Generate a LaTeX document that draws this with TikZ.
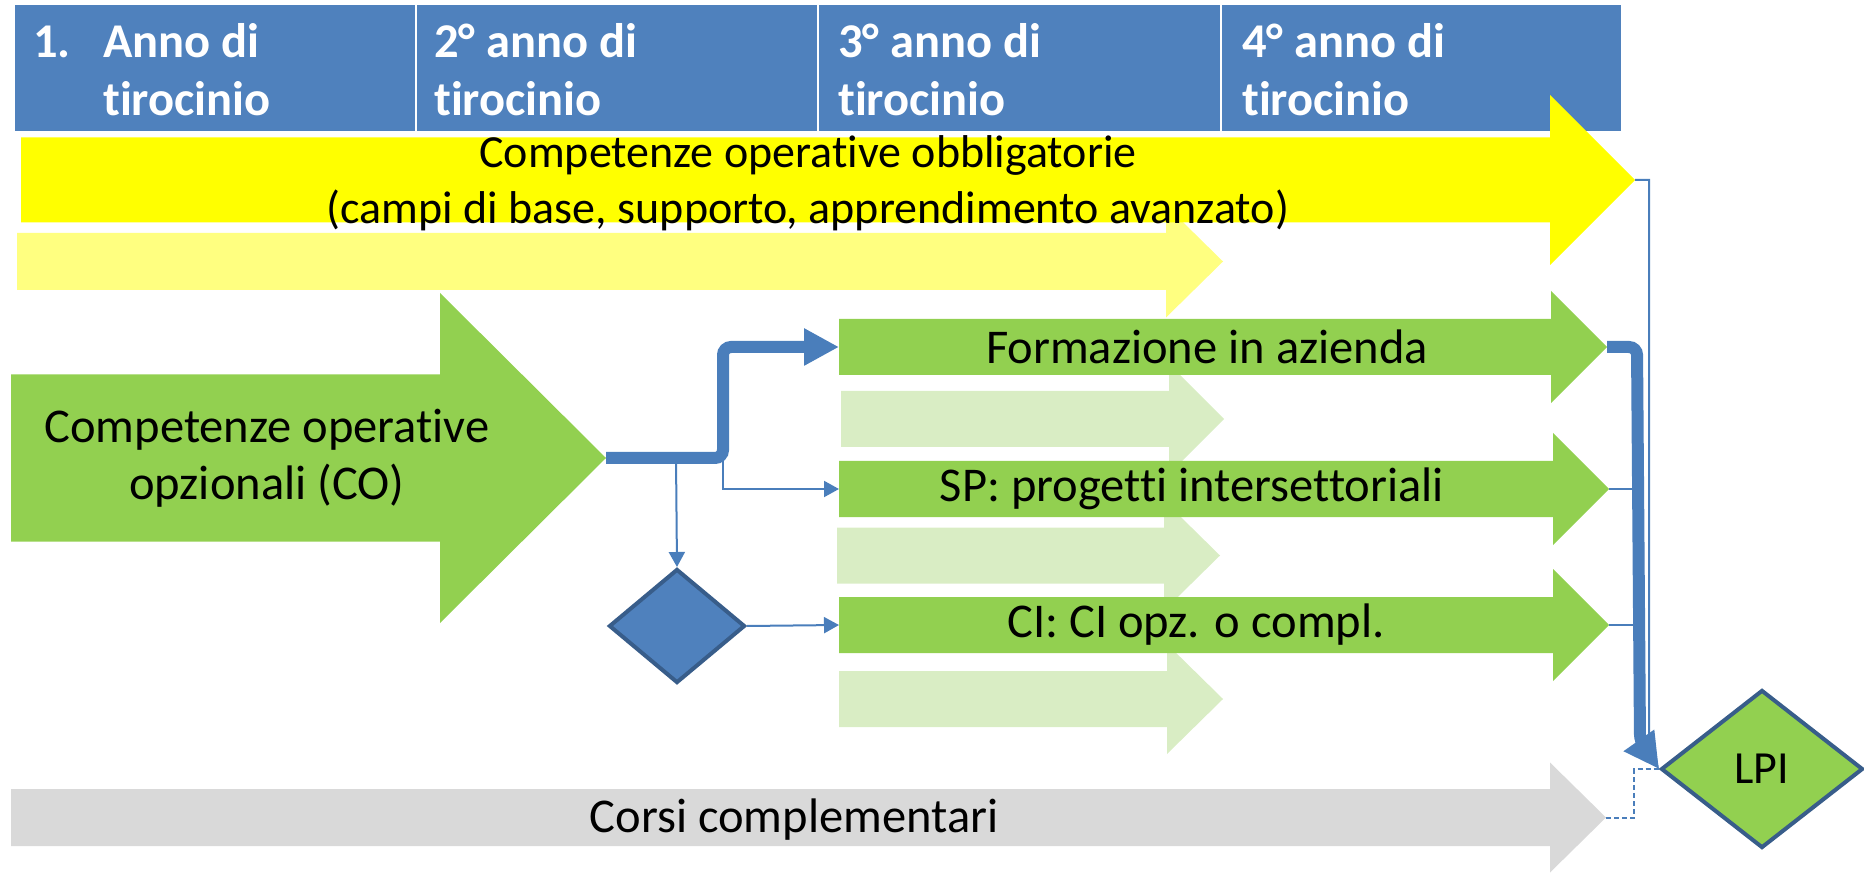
\documentclass[tikz,border=0pt]{standalone}
\usepackage{fontspec}
\setmainfont{Carlito}[Ligatures=CommonOff]
\usetikzlibrary{shapes.geometric,arrows.meta}
\definecolor{hdblue}{RGB}{79,129,189}
\definecolor{lnblue}{RGB}{74,126,187}
\definecolor{dkblue}{RGB}{56,93,138}
\definecolor{obyellow}{RGB}{255,255,0}
\definecolor{cogreen}{RGB}{146,208,80}
\definecolor{palegreen}{RGB}{217,237,196}
\definecolor{paleyellow}{RGB}{255,255,128}
\definecolor{cgray}{RGB}{217,217,217}
% name, fill, x tail, x head, x tip, y centre, shaft half, head half
\newcommand\blockarrow[8]{%
  \fill[#2] (#3,#6-#7) -- (#4,#6-#7) -- (#4,#6-#8) -- (#5,#6)
    -- (#4,#6+#8) -- (#4,#6+#7) -- (#3,#6+#7) -- cycle;
  \coordinate (#1-tail) at (#3,#6);
  \coordinate (#1-tip) at (#5,#6);}
\begin{document}
\begin{tikzpicture}[x=1pt, y=-1pt,
    hdcell/.style={fill=hdblue, draw=white, line width=2pt, anchor=north west, inner sep=0},
    hdtext/.style={text=white, font=\fontsize{48.5}{58}\selectfont\bfseries, anchor=base west, align=left, inner sep=0},
    lbl/.style={font=\fontsize{48.5}{57}\selectfont, align=center, inner sep=0},
    thinln/.style={lnblue, line width=2pt},
    thickln/.style={lnblue, line width=12pt, rounded corners=8pt}]
  \useasboundingbox (0,0) rectangle (1864,874);
  \node[hdcell, minimum width=402, minimum height=128] (H1) at (13,3) {};
  \node[hdcell, minimum width=402, minimum height=128] (H2) at (415,3) {};
  \node[hdcell, minimum width=403, minimum height=128] (H3) at (817,3) {};
  \node[hdcell, minimum width=401, minimum height=128] (H4) at (1220,3) {};
  \node[hdtext] (N1) at (33,58) {1.};
  \node[hdtext] (Y1) at (103,116) {Anno di\\tirocinio};
  \node[hdtext] (Y2) at (434,116) {2° anno di\\tirocinio};
  \node[hdtext] (Y3) at (838,116) {3° anno di\\tirocinio};
  \node[hdtext] (Y4) at (1242,116) {4° anno di\\tirocinio};
  \blockarrow{PY}{paleyellow}{17}{1166}{1223}{261.5}{28.5}{56}
  \blockarrow{OB}{obyellow}{21}{1550}{1635}{180}{42.5}{85}
  \blockarrow{P1}{palegreen}{841}{1169}{1224}{419}{28}{55}
  \blockarrow{P2}{palegreen}{837}{1164}{1220}{555.5}{28}{55}
  \blockarrow{P3}{palegreen}{839}{1167}{1223}{699}{28}{55}
  \blockarrow{FA}{cogreen}{839}{1551}{1607}{347}{28}{56}
  \blockarrow{SP}{cogreen}{839}{1553}{1609}{489}{28}{56}
  \blockarrow{CI}{cogreen}{839}{1553}{1609}{625}{28}{56}
  \blockarrow{CO}{cogreen}{11}{440}{606}{458}{83.5}{165}
  \blockarrow{CC}{cgray}{11}{1550}{1606}{817.5}{28.5}{55}
  \node[diamond, fill=hdblue, draw=dkblue, line width=4pt, minimum width=136, minimum height=114, inner sep=0] (D) at (677,626) {};
  \node[diamond, fill=cogreen, draw=dkblue, line width=4pt, minimum width=202, minimum height=158, inner sep=0, font=\fontsize{46}{56}\selectfont] (LPI) at (1762,769) {LPI};
  \coordinate (S1) at (676,458);
  \coordinate (S2) at (723,458);
  \coordinate (B1) at (1637,347);
  \coordinate (B2) at (1640,742);
  \coordinate (B3) at (1649,180);
  \coordinate (B4) at (1649,752);
  \draw[thickln, -{Triangle[length=35pt, width=35pt]}] (CO-tip) -- (S2) |- (FA-tail);
  \draw[thinln, -{Triangle[length=15pt, width=16pt]}] (S1) -- (D.north);
  \draw[thinln, -{Triangle[length=15pt, width=16pt]}] (S2) |- (SP-tail);
  \draw[thinln, -{Triangle[length=15pt, width=16pt]}] (D.east) -- (CI-tail);
  \draw[thinln] (SP-tip) -- (SP-tip -| B1);
  \draw[thinln] (CI-tip) -- (CI-tip -| B1);
  \draw[thinln, dash pattern=on 5pt off 3pt] (CC-tip) -- ++(28,0) |- (LPI.west);
  \draw[thinln, -{Triangle[length=20pt, width=14pt]}] (OB-tip) -- (B3) -- (B4) -- (LPI.west);
  \draw[thickln, -{Triangle[length=35pt, width=35pt]}] (FA-tip) -- (B1) -- (B2) -- (LPI.west);
  \node[lbl, font=\fontsize{46}{56}\selectfont] (Tob) at (808,183) {Competenze operative obbligatorie\\(campi di base, supporto, apprendimento avanzato)};
  \node[lbl] (Tco) at (267,458) {Competenze operative\\opzionali (CO)};
  \node[lbl] (Tfa) at (1207,347) {Formazione in azienda};
  \node[lbl] (Tsp) at (1192,489) {SP: progetti intersettoriali};
  \node[lbl] (Tci) at (1196,625) {CI: CI opz. o compl.};
  \node[lbl] (Tcc) at (794,820) {Corsi complementari};
\end{tikzpicture}
\end{document}
